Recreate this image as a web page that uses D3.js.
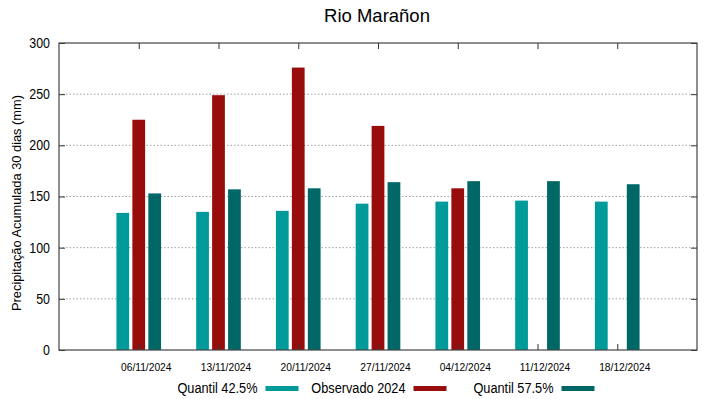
<!DOCTYPE html>
<html>
<head>
<meta charset="utf-8">
<script src="https://cdn.jsdelivr.net/npm/d3@7"></script>
<style>
  body { margin: 0; background: #fff; }
  text { font-family: "Liberation Sans", Arial, sans-serif; fill: #000; }
</style>
</head>
<body>
<div id="chart"></div>
<script>
// data
const dates = ["06/11/2024", "13/11/2024", "20/11/2024", "27/11/2024", "04/12/2024", "11/12/2024", "18/12/2024"];
const quantil425 = [134, 135, 136, 143, 145, 146, 145];
const observado = [225, 249, 276, 219, 158, null, null];
const quantil575 = [153, 157, 158, 164, 165, 165, 162];
const yTicks = [0, 50, 100, 150, 200, 250, 300];

const series = [
    {name: "Quantil 42.5%", values: quantil425, color: "#009a9a", offset: -0.2},
    {name: "Observado 2024", values: observado, color: "#990c0c", offset: 0},
    {name: "Quantil 57.5%", values: quantil575, color: "#006767", offset: 0.2}
];

// squeeze text a bit, the original font is narrower than Liberation Sans
function squeeze(sel, f) {
    sel.each(function() {
        let w = this.getComputedTextLength();
        d3.select(this).attr("textLength", w * f).attr("lengthAdjust", "spacingAndGlyphs");
    });
}

const margin = {top: 43, right: 22, bottom: 49, left: 59},
    width = 719 - margin.left - margin.right,
    height = 399 - margin.top - margin.bottom;

let svg = d3.select("#chart")
    .append("svg")
    .attr("width", 719)
    .attr("height", 399);

let g = svg.append("g")
    .attr("transform", "translate(" + margin.left + "," + margin.top + ")");

let x = d3.scaleLinear().domain([-1, dates.length]).range([0, width]);
let y = d3.scaleLinear().domain([0, 300]).range([height, 0]);
const barW = x(0.16) - x(0);

// dotted grid
g.selectAll(".grid")
    .data(yTicks.filter(d => d > 0 && d < 300))
    .enter().append("line")
    .attr("x1", 0).attr("x2", width)
    .attr("y1", d => y(d)).attr("y2", d => y(d))
    .attr("stroke", "#a0a0a0")
    .attr("stroke-width", 1)
    .attr("stroke-dasharray", "1.5,2");

// bars
series.forEach(s => {
    g.selectAll(null)
        .data(s.values.map((v, i) => ({v: v, i: i})).filter(d => d.v != null))
        .enter().append("rect")
        .attr("x", d => x(d.i + s.offset) - barW / 2)
        .attr("width", barW)
        .attr("y", d => y(d.v))
        .attr("height", d => y(0) - y(d.v))
        .attr("fill", s.color);
});

// axes (ticks inside, mirrored)
let yLeft = g.append("g")
    .call(d3.axisLeft(y).tickValues(yTicks).tickSize(-6).tickPadding(9));
let yRight = g.append("g")
    .attr("transform", "translate(" + width + ",0)")
    .call(d3.axisRight(y).tickValues(yTicks).tickSize(-6).tickFormat(""));
let xBottom = g.append("g")
    .attr("transform", "translate(0," + height + ")")
    .call(d3.axisBottom(x).tickValues(d3.range(dates.length)).tickSize(-6).tickPadding(13)
        .tickFormat(i => dates[i]));
let xTop = g.append("g")
    .call(d3.axisTop(x).tickValues(d3.range(dates.length)).tickSize(-6).tickFormat(""));

[yLeft, yRight, xBottom, xTop].forEach(a => {
    a.select(".domain").remove();
    a.selectAll(".tick line").attr("stroke", "#333");
});
yLeft.selectAll("text").style("font-size", "14px").attr("fill", "#000").call(squeeze, 0.885);
xBottom.selectAll("text").style("font-size", "11px").attr("fill", "#000")
    .attr("dx", 7).call(squeeze, 0.93);

// frame
g.append("rect")
    .attr("width", width).attr("height", height)
    .attr("fill", "none")
    .attr("stroke", "#444")
    .attr("stroke-width", 1.2);

// title
svg.append("text")
    .attr("x", 377).attr("y", 22)
    .attr("text-anchor", "middle")
    .style("font-size", "18.5px")
    .text("Rio Marañon");

// y label
svg.append("text")
    .attr("transform", "translate(21,203) rotate(-90)")
    .attr("text-anchor", "middle")
    .style("font-size", "13.5px")
    .text("Precipitação Acumulada 30 dias (mm)")
    .call(squeeze, 0.95);

// legend
const legendX = [257.5, 405.5, 553.5];
series.forEach((s, i) => {
    svg.append("text")
        .attr("x", legendX[i]).attr("y", 393)
        .attr("text-anchor", "end")
        .style("font-size", "14px")
        .text(s.name)
        .call(squeeze, 0.91);
    svg.append("rect")
        .attr("x", legendX[i] + 8).attr("y", 386)
        .attr("width", 33).attr("height", 5)
        .attr("fill", s.color);
});
</script>
</body>
</html>
